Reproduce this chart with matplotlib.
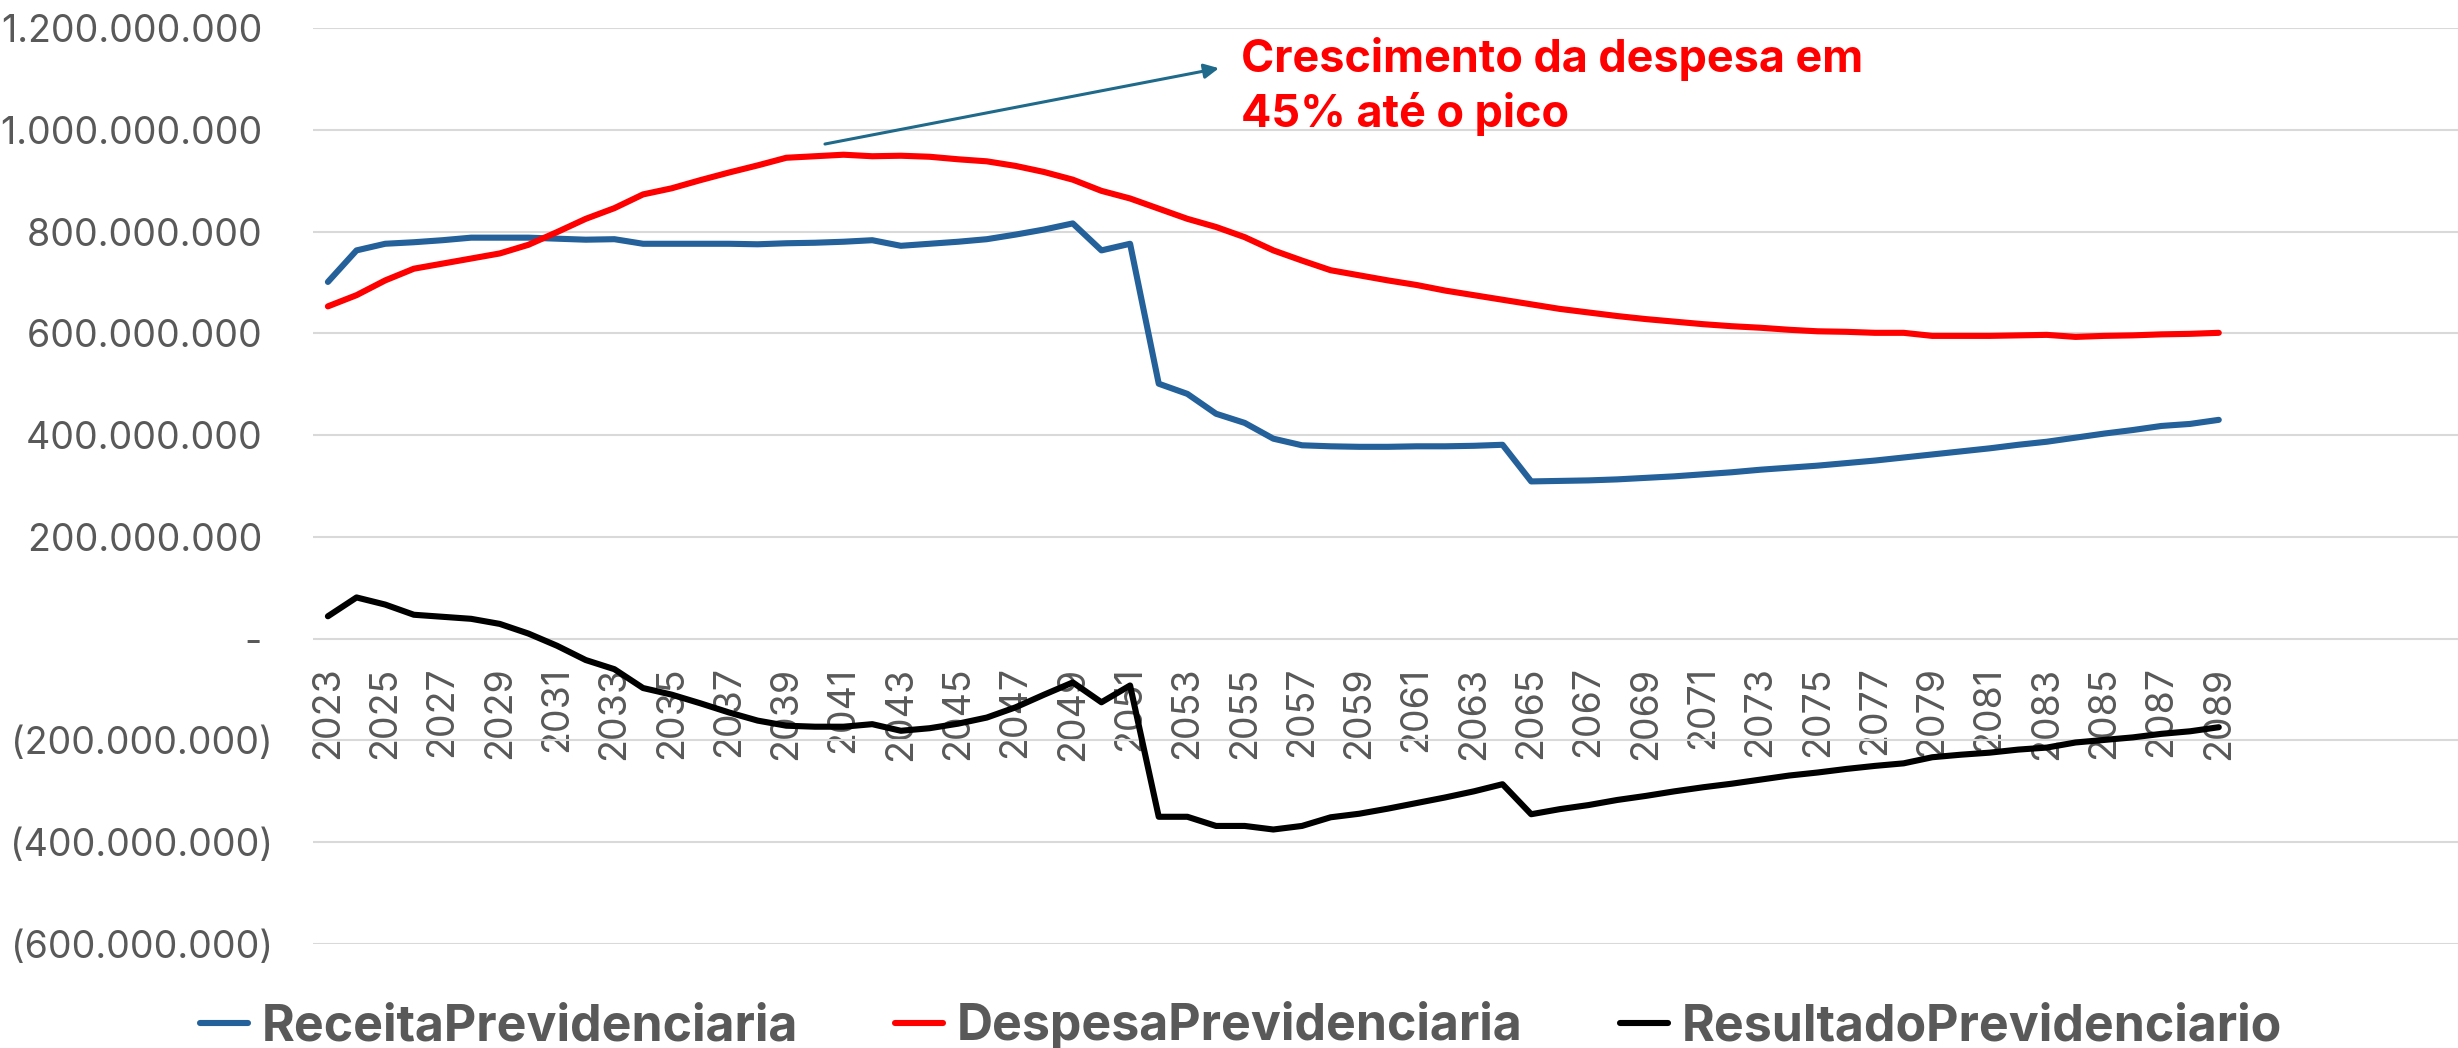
import matplotlib
matplotlib.use("Agg")
import matplotlib.pyplot as plt
from matplotlib.ticker import FuncFormatter, MultipleLocator

# ---------------- data (values in millions) ----------------
years = list(range(2023, 2090))

receita = [701, 763, 776, 779, 783, 788, 788, 788, 786, 784,
           785, 776, 776, 776, 776, 775, 777, 778, 780, 783,
           772, 776, 780, 785, 794, 804, 816, 763, 776, 501,
           481, 442, 424, 393, 380, 378, 377, 377, 378, 378,
           379, 381, 309, 310, 311, 313, 316, 319, 323, 327,
           332, 336, 340, 345, 350, 356, 362, 368, 374, 381,
           387, 395, 403, 410, 418, 422, 430]

despesa = [653, 675, 704, 727, 737, 747, 757, 774, 799, 825,
           846, 873, 885, 901, 916, 930, 945, 948, 951, 948,
           949, 947, 942, 938, 929, 917, 902, 880, 865, 845,
           825, 809, 789, 763, 743, 724, 714, 704, 695, 684,
           675, 666, 657, 648, 641, 634, 628, 623, 618, 614,
           611, 607, 604, 603, 601, 601, 595, 595, 595, 596,
           597, 593, 595, 596, 598, 599, 601]

resultado = [44, 81, 67, 47, 43, 39, 29, 10, -14, -42,
             -60, -97, -110, -127, -145, -161, -171, -173, -173, -168,
             -181, -176, -167, -155, -135, -110, -86, -125, -92, -350,
             -350, -368, -368, -375, -368, -351, -344, -334, -323, -312,
             -300, -286, -345, -335, -327, -317, -309, -300, -292, -285,
             -277, -269, -263, -256, -250, -245, -233, -228, -224, -218,
             -214, -204, -199, -194, -187, -182, -174]

series_names = ["ReceitaPrevidenciaria", "DespesaPrevidenciaria", "ResultadoPrevidenciario"]
tick_years = list(range(2023, 2090, 2))
annotation_lines = ["Crescimento da despesa em", "45% até o pico"]

# ---------------- style ----------------
SCALE = 1e6
C_BLUE = "#24619A"
C_RED = "#FF0000"
C_BLACK = "#000000"
C_GREY = "#595959"
C_GRID = "#D9D9D9"
C_ARROW = "#1F6A8A"
FONT = ["Inter", "Liberation Sans", "DejaVu Sans"]

plt.rcParams["font.family"] = FONT

W, H = 2458, 1048
fig = plt.figure(figsize=(W / 100, H / 100), dpi=100)
left_px, top_px, bottom_px = 313, 28, 944
ax = fig.add_axes([left_px / W, 1 - bottom_px / H, 1 - left_px / W, (bottom_px - top_px) / H])

for s in ax.spines.values():
    s.set_visible(False)
ax.spines["bottom"].set_position(("data", 0))

lw = 4.4
l1, = ax.plot(years, [v * SCALE for v in receita], color=C_BLUE, lw=lw,
              solid_capstyle="round", solid_joinstyle="round")
l2, = ax.plot(years, [v * SCALE for v in despesa], color=C_RED, lw=lw,
              solid_capstyle="round", solid_joinstyle="round")
l3, = ax.plot(years, [v * SCALE for v in resultado], color=C_BLACK, lw=lw,
              solid_capstyle="round", solid_joinstyle="round")

ax.set_xlim(2022.48, 2097.35)
ax.set_ylim(-600e6, 1200e6)
ax.yaxis.set_major_locator(MultipleLocator(200e6))


def fmt(v, pos):
    n = int(round(v))
    s = f"{abs(n):,}".replace(",", ".")
    if n == 0:
        return "- "
    if n < 0:
        return f"({s})"
    return s + " "


ax.yaxis.set_major_formatter(FuncFormatter(fmt))
ax.set_xticks(tick_years)
ax.set_xticklabels([str(y) for y in tick_years])

ax.yaxis.grid(True, color=C_GRID, lw=1.5)
ax.set_axisbelow(True)

ax.tick_params(axis="y", length=0, pad=29, labelsize=27, labelcolor=C_GREY)
ax.tick_params(axis="x", length=0, pad=20, labelsize=27, labelcolor=C_GREY,
               labelrotation=90)

# annotation arrow and text
ax.annotate("", xy=(2054.1, 1121e6), xytext=(2040.35, 972e6),
            arrowprops=dict(arrowstyle="-|>", color=C_ARROW, lw=2.2,
                            mutation_scale=22, shrinkA=0, shrinkB=0))
ax.text(2054.87, 1114e6, annotation_lines[0], color=C_RED, fontsize=32.4,
        fontweight="bold", va="baseline", ha="left")
ax.text(2054.87, 1006e6, annotation_lines[1], color=C_RED, fontsize=32.4,
        fontweight="bold", va="baseline", ha="left")

# legend
leg = fig.legend([l1, l2, l3], series_names, loc="center left",
                 bbox_to_anchor=(200 / W, 1 - 1026 / H), ncol=3, frameon=False,
                 borderpad=0, borderaxespad=0, handlelength=0.95,
                 handletextpad=0.28, columnspacing=1.95,
                 prop=dict(family=FONT, weight="bold", size=36))
for t in leg.get_texts():
    t.set_color(C_GREY)

fig.savefig("out.png", dpi=100)
